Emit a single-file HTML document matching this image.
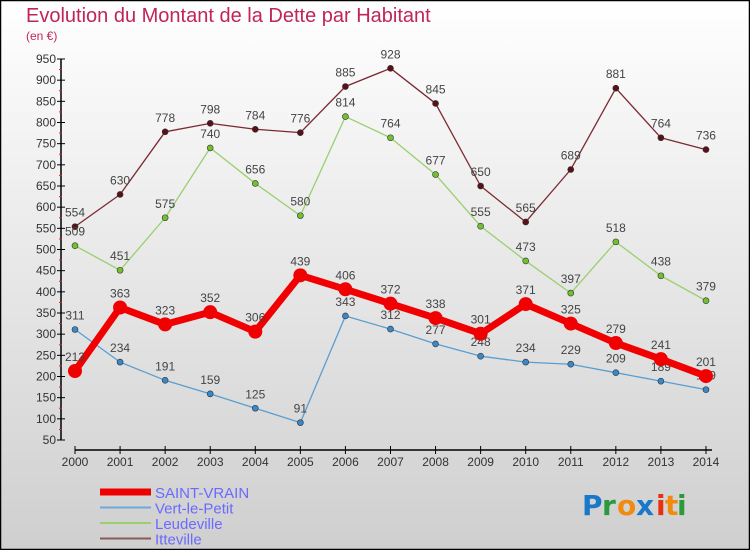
<!DOCTYPE html>
<html><head><meta charset="utf-8"><style>
html,body{margin:0;padding:0}
body{width:750px;height:550px;overflow:hidden;font-family:"Liberation Sans",sans-serif}
</style></head><body>
<svg id="chart" width="750" height="550" xmlns="http://www.w3.org/2000/svg">
<defs><linearGradient id="bg" x1="0" y1="0" x2="0" y2="1"><stop offset="0" stop-color="#ffffff"/><stop offset="1" stop-color="#cfcfcf"/></linearGradient></defs>
<rect x="0.5" y="0.5" width="749" height="549" fill="url(#bg)" stroke="#000" stroke-width="1.5"/>
<text x="26" y="22" font-size="20" fill="#c0245c" font-weight="300">Evolution du Montant de la Dette par Habitant</text>
<text x="26" y="40" font-size="12" fill="#c0245c">(en €)</text>
<g id="axes"></g><g id="series"></g><g id="legend"></g>
<g font-family="'DejaVu Sans',sans-serif" font-size="28" font-weight="bold">
<text x="582" y="515" fill="#1a78c8">P</text><text x="602" y="515" fill="#2a9a3a">r</text><text x="617" y="515" fill="#f08a10">o</text><text x="636" y="515" fill="#1a78c8">x</text><text x="656" y="515" fill="#e83010">i</text><text x="665" y="515" fill="#f08a10">t</text><text x="677" y="515" fill="#2a9a3a">i</text>
</g>
</svg>
<script>
const years=[2000,2001,2002,2003,2004,2005,2006,2007,2008,2009,2010,2011,2012,2013,2014];
const saintVrain=[213,363,323,352,306,439,406,372,338,301,371,325,279,241,201];
const vertLePetit=[311,234,191,159,125,91,343,312,277,248,234,229,209,189,169];
const leudeville=[509,451,575,740,656,580,814,764,677,555,473,397,518,438,379];
const itteville=[554,630,778,798,784,776,885,928,845,650,565,689,881,764,736];
const yTicks=[50,100,150,200,250,300,350,400,450,500,550,600,650,700,750,800,850,900,950];
const NS="http://www.w3.org/2000/svg";
function X(i){return 75+i*45.07;}
function Y(v){return 440-(v-50)*(381/900);}
function mk(tag,attrs,parent,txt){const e=document.createElementNS(NS,tag);for(const k in attrs)e.setAttribute(k,attrs[k]);if(txt!==undefined)e.textContent=txt;parent.appendChild(e);return e;}
const axes=document.getElementById('axes');
let e=mk('line',{x1:61,y1:Y(950),x2:61,y2:Y(50),stroke:'#000','stroke-width':1.5},axes);


yTicks.forEach(v=>{
 mk('line',{x1:57,y1:Y(v),x2:65,y2:Y(v),stroke:'#000'},axes);
 if(v<950) mk('line',{x1:59,y1:Y(v+25),x2:62,y2:Y(v+25),stroke:'#e02020'},axes);
 const t=mk('text',{x:56,y:Y(v)+4,'text-anchor':'end','font-size':12,fill:'#333'},axes,v);
 
 
});
e=mk('line',{x1:75,y1:450,x2:712,y2:450,stroke:'#000','stroke-width':1.5},axes);


years.forEach((y,i)=>{
 mk('line',{x1:X(i),y1:446,x2:X(i),y2:454,stroke:'#000'},axes);
 const t=mk('text',{x:X(i),y:466,'text-anchor':'middle','font-size':12,fill:'#333'},axes,y);
 
 
});
const sg=document.getElementById('series');
function draw(vals,color,dot,w,r,name,labelColor){
 const g=mk('g',{},sg);
 
 
 const l=mk('polyline',{points:vals.map((v,i)=>X(i)+','+Y(v)).join(' '),fill:'none',stroke:color,'stroke-width':w,'stroke-linejoin':'round'},g);
 
 
 vals.forEach((v,i)=>{
  const c=mk('circle',{cx:X(i),cy:Y(v),r:r,fill:dot,stroke:'#333','stroke-width':r>4?0:0.6},g);
  
  
  const t=mk('text',{x:X(i),y:Y(v)-10,'text-anchor':'middle','font-size':12,fill:'#444'},g,v);
  
  
 });
}
draw(itteville,'#7a2a30','#5a1018',1.3,3,'itteville');
draw(leudeville,'#98d070','#70c030',1.3,3,'leudeville');
draw(vertLePetit,'#5a9ed0','#3a88c8',1.3,3,'vert-le-petit');
draw(saintVrain,'#f00000','#f00000',7,7,'saint-vrain');
const lg=document.getElementById('legend');
[['SAINT-VRAIN','#ee0000',7],['Vert-le-Petit','#70a8d8',2],['Leudeville','#98d070',2],['Itteville','#8a5a5a',2]].forEach((d,i)=>{
 const y=492+i*15.5;
 const g=mk('g',{},lg);
 
 
 mk('line',{x1:100,y1:y,x2:151,y2:y,stroke:d[1],'stroke-width':d[2]},g);
 mk('text',{x:155,y:y+6,'font-size':15,fill:'#6a6aff'},g,d[0]);
});
</script>
</body></html>
